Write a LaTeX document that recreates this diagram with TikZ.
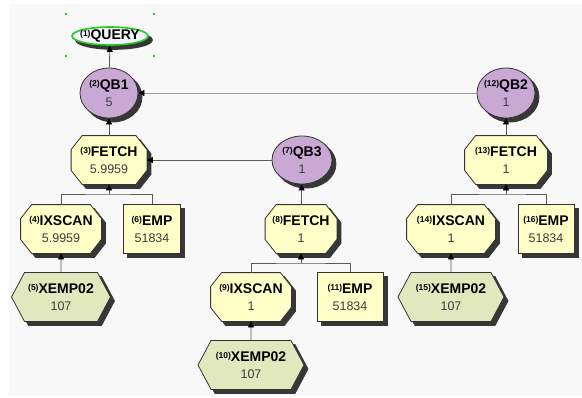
\documentclass[tikz,border=0pt]{standalone}
\usepackage{fontspec}
\setsansfont{Liberation Sans}
\usetikzlibrary{shapes.geometric,shapes.symbols,arrows.meta,calc}
\definecolor{qbfill}{RGB}{201,168,211}
\definecolor{opfill}{RGB}{255,255,200}
\definecolor{ixfill}{RGB}{226,232,190}
\definecolor{qryfill}{RGB}{244,244,252}
\definecolor{selgreen}{RGB}{34,204,34}
\definecolor{bggray}{RGB}{248,248,248}
\definecolor{valgray}{RGB}{60,60,60}
\definecolor{shadowgray}{RGB}{55,55,55}
% octagon with cut corners, same anchors as a rectangle
\makeatletter
\pgfkeys{/pgf/octo cut x/.initial=11pt,/pgf/octo cut y/.initial=14pt}
\pgfdeclareshape{octobox}{%
  \inheritsavedanchors[from=rectangle]%
  \inheritanchorborder[from=rectangle]%
  \inheritanchor[from=rectangle]{center}%
  \inheritanchor[from=rectangle]{north}%
  \inheritanchor[from=rectangle]{south}%
  \inheritanchor[from=rectangle]{east}%
  \inheritanchor[from=rectangle]{west}%
  \backgroundpath{%
    \southwest \pgf@xa=\pgf@x \pgf@ya=\pgf@y
    \northeast \pgf@xb=\pgf@x \pgf@yb=\pgf@y
    \pgfmathsetlength\pgf@xc{\pgfkeysvalueof{/pgf/octo cut x}}%
    \pgfmathsetlength\pgf@yc{\pgfkeysvalueof{/pgf/octo cut y}}%
    \pgfpathmoveto{\pgfqpoint{\dimexpr\pgf@xa+\pgf@xc\relax}{\pgf@yb}}%
    \pgfpathlineto{\pgfqpoint{\dimexpr\pgf@xb-\pgf@xc\relax}{\pgf@yb}}%
    \pgfpathlineto{\pgfqpoint{\pgf@xb}{\dimexpr\pgf@yb-\pgf@yc\relax}}%
    \pgfpathlineto{\pgfqpoint{\pgf@xb}{\dimexpr\pgf@ya+\pgf@yc\relax}}%
    \pgfpathlineto{\pgfqpoint{\dimexpr\pgf@xb-\pgf@xc\relax}{\pgf@ya}}%
    \pgfpathlineto{\pgfqpoint{\dimexpr\pgf@xa+\pgf@xc\relax}{\pgf@ya}}%
    \pgfpathlineto{\pgfqpoint{\pgf@xa}{\dimexpr\pgf@ya+\pgf@yc\relax}}%
    \pgfpathlineto{\pgfqpoint{\pgf@xa}{\dimexpr\pgf@yb-\pgf@yc\relax}}%
    \pgfpathclose
  }%
}
\makeatother
\newcommand{\opnum}[1]{\raisebox{3pt}{\fontsize{8.5}{8.5}\selectfont\bfseries(#1)}}
\newcommand{\oplabel}[3]{\opnum{#1}\textbf{#2}\\{\fontsize{12.5}{13}\selectfont\color{valgray}#3}}
% node with its drop shadow: style, name, position, text
\newcommand{\castnode}[4]{%
  \node[#1,castshadow] (#2-sh) at ($#3+(4,4)$) {};
  \node[#1] (#2) at #3 {#4};}
\begin{document}
\begin{tikzpicture}[x=1pt,y=-1pt,
    every node/.style={font=\fontsize{14}{16.5}\selectfont\sffamily,align=center,inner sep=0pt},
    castshadow/.style={fill=shadowgray,draw=shadowgray},
    qry/.style={shape=ellipse,draw=selgreen,line width=1.6pt,fill=qryfill,minimum width=76pt,minimum height=18pt,inner xsep=-9pt},
    qb/.style={shape=ellipse,draw=black!80,line width=.8pt,fill=qbfill,minimum width=58pt,minimum height=50pt,inner xsep=-2pt},
    fetchop/.style={shape=octobox,draw=black!80,line width=.8pt,fill=opfill,minimum width=75pt,minimum height=48pt},
    tbl/.style={shape=rectangle,draw=black!80,line width=.8pt,fill=opfill,minimum width=57pt,minimum height=49pt},
    idx/.style={shape=signal,signal to=east and west,signal pointer angle=124,draw=black!80,line width=.8pt,fill=ixfill,minimum width=99pt,minimum height=49pt},
    link/.style={draw=black!65,line width=.8pt},
    arr/.style={link,-{Triangle[length=6pt,width=6pt,color=black]}}]
  \useasboundingbox (0,0) rectangle (582,397);
  \fill[bggray] (9,4) rectangle (582,396);

  % selection marks round the query
  \foreach \sx/\sy in {66/14,154/14,66/56,154/56}
    \fill[selgreen] (\sx-1,\sy-1) rectangle (\sx+1,\sy+1);

  \castnode{qry}{query}{(110,36)}{\opnum{1}\textbf{QUERY}}
  \castnode{qb}{qbA}{(109,93)}{\oplabel{2}{QB1}{5}}
  \castnode{qb}{qbB}{(506,93)}{\oplabel{12}{QB2}{1}}
  \castnode{qb,minimum width=60pt,minimum height=48pt}{qbC}{(302,160)}{\oplabel{7}{QB3}{1}}

  \castnode{fetchop}{fetchA}{(109,160)}{\oplabel{3}{FETCH}{5.9959}}
  \castnode{fetchop,minimum width=71pt}{fetchB}{(301,229)}{\oplabel{8}{FETCH}{1}}
  \castnode{fetchop,minimum width=82pt}{fetchC}{(506,160)}{\oplabel{13}{FETCH}{1}}

  \castnode{fetchop,minimum width=80pt}{ixA}{(61,229)}{\oplabel{4}{IXSCAN}{5.9959}}
  \castnode{fetchop,minimum width=80pt}{ixB}{(251,297)}{\oplabel{9}{IXSCAN}{1}}
  \castnode{fetchop,minimum width=88pt}{ixC}{(451,229)}{\oplabel{14}{IXSCAN}{1}}

  \castnode{tbl}{empA}{(152,229)}{\oplabel{6}{EMP}{51834}}
  \castnode{tbl,minimum width=66pt}{empB}{(350,297)}{\oplabel{11}{EMP}{51834}}
  \castnode{tbl,minimum width=56pt}{empC}{(546,229)}{\oplabel{16}{EMP}{51834}}

  \castnode{idx}{xA}{(61,297)}{\oplabel{5}{XEMP02}{107}}
  \castnode{idx,minimum width=106pt}{xB}{(251,365)}{\oplabel{10}{XEMP02}{107}}
  \castnode{idx,minimum width=106pt}{xC}{(451,297)}{\oplabel{15}{XEMP02}{107}}

  \coordinate (jA) at (109,194);
  \coordinate (jB) at (301,263);
  \coordinate (jC) at (506,194);

  \path[arr] (qbA) edge (query);
  \path[arr] (fetchA) edge (qbA);
  \path[arr,draw=black!40] (qbB) edge (qbA);
  \path[arr] (qbC) edge (fetchA);
  \path[arr] (fetchB) edge (qbC);
  \path[arr] (fetchC) edge (qbB);

  \draw[link] (ixA.north) |- (jA) -| (empA.north);
  \draw[link] (ixB.north) |- (jB) -| (empB.north);
  \draw[link] (ixC.north) |- (jC) -| (empC.north);
  \draw[arr] (jA) -- (fetchA.south);
  \draw[arr] (jB) -- (fetchB.south);
  \draw[arr] (jC) -- (fetchC.south);

  \path[arr] (xA) edge (ixA);
  \path[arr] (xB) edge (ixB);
  \path[arr] (xC) edge (ixC);
\end{tikzpicture}
\end{document}
